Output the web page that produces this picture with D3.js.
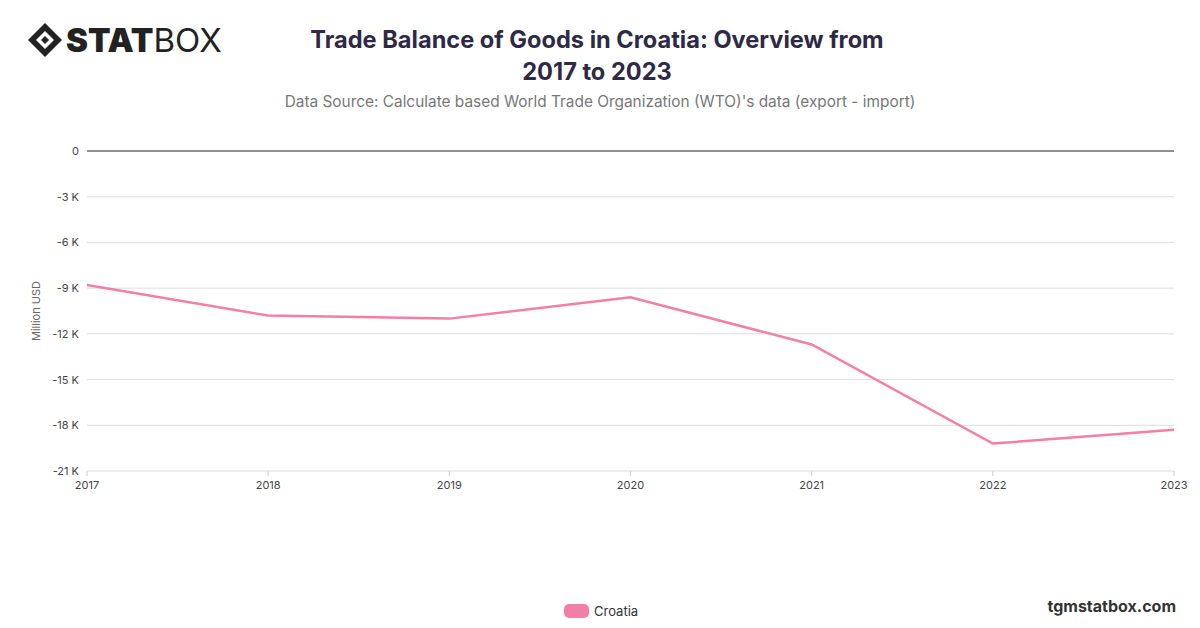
<!DOCTYPE html>
<html><head><meta charset="utf-8">
<script src="https://cdn.jsdelivr.net/npm/d3@7"></script>
<style>body{margin:0;background:#fff;font-family:Inter,"Noto Sans",sans-serif}</style>
</head><body><svg id="chart" width="1200" height="628"></svg>
<script>
var years = [2017, 2018, 2019, 2020, 2021, 2022, 2023];
var balance = [-8800, -10800, -11000, -9600, -12700, -19200, -18300];
var yTicks = [0, -3000, -6000, -9000, -12000, -15000, -18000, -21000];

var svg = d3.select('#chart');
var margin = {top: 151, right: 26, bottom: 157, left: 87};
var w = 1200 - margin.left - margin.right;
var h = 628 - margin.top - margin.bottom;

var x = d3.scaleLinear().domain([2017, 2023]).range([0, w]);
var y = d3.scaleLinear().domain([-21000, 0]).range([h, 0]);

var g = svg.append('g').attr('transform', 'translate(' + margin.left + ',' + margin.top + ')');

// grid
g.selectAll('line.grid').data(yTicks).enter().append('line')
  .attr('x1', 0).attr('x2', w)
  .attr('y1', function(d){ return y(d); }).attr('y2', function(d){ return y(d); })
  .attr('stroke', function(d){ return d === 0 ? '#222' : '#ddd'; })
  .attr('stroke-width', 1);

g.selectAll('text.ytick').data(yTicks).enter().append('text')
  .attr('x', -8).attr('y', function(d){ return y(d) + 4; })
  .attr('text-anchor', 'end').attr('font-size', 11).attr('fill', '#444')
  .text(function(d){ return d === 0 ? '0' : (d / 1000) + ' K'; });

g.selectAll('text.xtick').data(years).enter().append('text')
  .attr('x', function(d){ return x(d); }).attr('y', h + 18)
  .attr('text-anchor', 'middle').attr('font-size', 11).attr('fill', '#444')
  .text(function(d){ return d; });

g.selectAll('line.xt').data(years).enter().append('line')
  .attr('x1', function(d){ return x(d); }).attr('x2', function(d){ return x(d); })
  .attr('y1', h).attr('y2', h + 5).attr('stroke', '#ccc');

svg.append('text').attr('transform', 'translate(40,' + (margin.top + h / 2) + ') rotate(-90)')
  .attr('text-anchor', 'middle').attr('font-size', 11).attr('fill', '#666').text('Million USD');

var line = d3.line().x(function(d, i){ return x(years[i]); }).y(function(d){ return y(d); });
g.append('path').datum(balance).attr('d', line)
  .attr('fill', 'none').attr('stroke', '#f37fa9').attr('stroke-width', 2.5);

// titles
svg.append('text').attr('x', 597).attr('y', 48).attr('text-anchor', 'middle')
  .attr('font-size', 23.6).attr('font-weight', 700).attr('fill', '#2e2a45')
  .text('Trade Balance of Goods in Croatia: Overview from');
svg.append('text').attr('x', 597).attr('y', 80).attr('text-anchor', 'middle')
  .attr('font-size', 23.6).attr('font-weight', 700).attr('fill', '#2e2a45').text('2017 to 2023');
svg.append('text').attr('x', 600).attr('y', 107).attr('text-anchor', 'middle')
  .attr('font-size', 15.4).attr('fill', '#777')
  .text("Data Source: Calculate based World Trade Organization (WTO)'s data (export - import)");

// legend
svg.append('rect').attr('x', 564).attr('y', 604).attr('width', 25).attr('height', 14)
  .attr('rx', 5).attr('fill', '#f37fa9');
svg.append('text').attr('x', 594).attr('y', 616).attr('font-size', 13).attr('fill', '#333').text('Croatia');

svg.append('text').attr('x', 1176).attr('y', 612).attr('text-anchor', 'end')
  .attr('font-size', 16).attr('font-weight', 700).attr('fill', '#333').text('tgmstatbox.com');

// logo
var logo = svg.append('g').attr('transform', 'translate(45,40)');
logo.append('path').attr('d', 'M0,-17 L17,0 L0,17 L-17,0 Z').attr('fill', '#222');
logo.append('path').attr('d', 'M0,-9 L9,0 L0,9 L-9,0 Z').attr('fill', '#fff');
logo.append('path').attr('d', 'M0,-4 L4,0 L0,4 L-4,0 Z').attr('fill', '#222');
var lt = svg.append('text').attr('x', 66).attr('y', 52).attr('font-size', 33).attr('fill', '#222');
lt.append('tspan').attr('font-weight', 900).text('STAT');
lt.append('tspan').attr('font-weight', 400).text('BOX');
</script></body></html>
